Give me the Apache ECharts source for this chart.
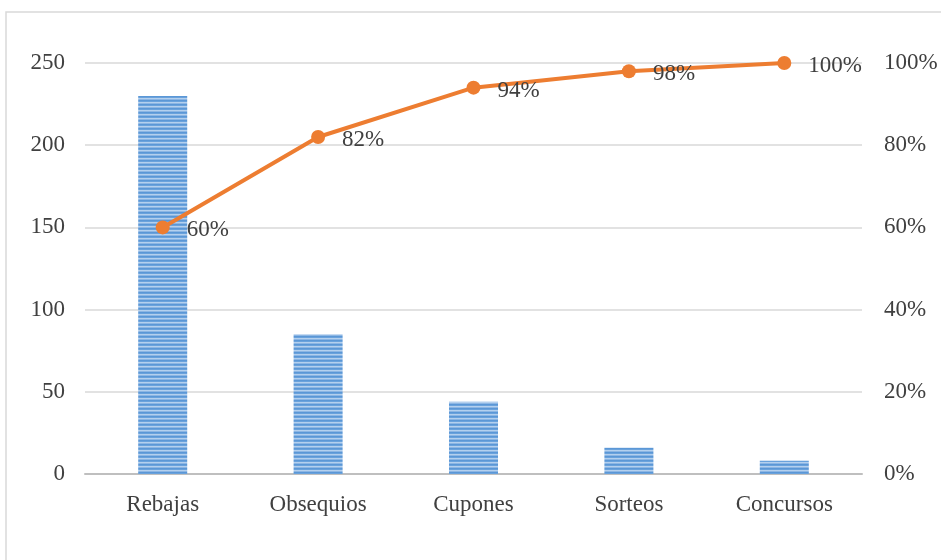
<!DOCTYPE html>
<html><head><meta charset="utf-8">
<script src="https://cdn.jsdelivr.net/npm/echarts@6/dist/echarts.min.js"></script>
<style>html,body{margin:0;padding:0;background:#fff}#c{width:941px;height:560px}</style>
</head><body><div id="c"></div>
<script>
const categories = ['Rebajas', 'Obsequios', 'Cupones', 'Sorteos', 'Concursos'];
const counts = [230, 85, 44, 16, 8];
const cumulative = [0.60, 0.82, 0.94, 0.98, 1.00];

const pc = document.createElement('canvas');
pc.width = 4; pc.height = 4;
const g = pc.getContext('2d');
const rows = ['#5b97d6', '#6aa2dc', '#b4d0ee', '#8cb6e4'];
rows.forEach((c, i) => { g.fillStyle = c; g.fillRect(0, i, 4, 1); });

const font = '"Liberation Serif", "Times New Roman", serif';
const chart = echarts.init(document.getElementById('c'));
chart.setOption({
  backgroundColor: '#fff',
  animation: false,
  graphic: [{type: 'rect', shape: {x: 6, y: 12, width: 1000, height: 700}, style: {fill: 'none', stroke: '#d9d9d9', lineWidth: 1.5}, silent: true, z: -1}],
  grid: {left: 85, right: 79, top: 63, bottom: 86},
  xAxis: {
    type: 'category', data: categories,
    axisLine: {lineStyle: {color: '#bfbfbf', width: 2}},
    axisTick: {show: false},
    axisLabel: {color: '#404040', fontFamily: font, fontSize: 23, margin: 19}
  },
  yAxis: [{
    type: 'value', min: 0, max: 250, interval: 50,
    axisLine: {show: false}, axisTick: {show: false},
    splitLine: {lineStyle: {color: '#e2e2e2', width: 2}},
    axisLabel: {color: '#404040', fontFamily: font, fontSize: 23, margin: 20}
  }, {
    type: 'value', min: 0, max: 1, interval: 0.2,
    axisLine: {show: false}, axisTick: {show: false}, splitLine: {show: false},
    axisLabel: {color: '#404040', fontFamily: font, fontSize: 23, margin: 22,
      formatter: v => Math.round(v * 100) + '%'}
  }],
  series: [{
    type: 'bar', data: counts, barWidth: 49,
    itemStyle: {color: {image: pc, repeat: 'repeat'}}
  }, {
    type: 'line', yAxisIndex: 1, data: cumulative,
    symbol: 'circle', symbolSize: 14,
    lineStyle: {color: '#ed7d31', width: 4},
    itemStyle: {color: '#ed7d31'},
    label: {show: true, position: 'right', distance: 17, offset: [0, 3],
      color: '#404040', fontFamily: font, fontSize: 23,
      formatter: p => Math.round(p.value * 100) + '%'},
    z: 5
  }]
});
</script></body></html>
